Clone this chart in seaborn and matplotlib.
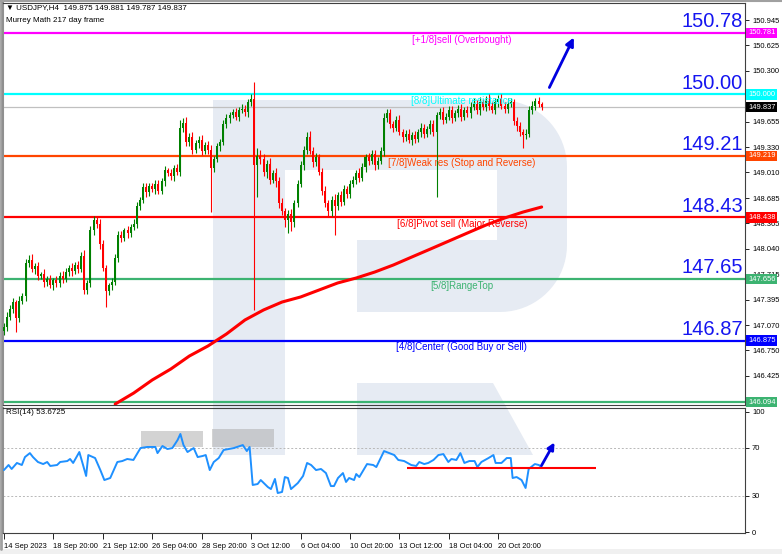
import numpy as np
import pandas as pd
import matplotlib
matplotlib.use('Agg')
import matplotlib.pyplot as plt
import matplotlib.transforms as mtransforms
from matplotlib import font_manager
from matplotlib.patches import Polygon, Rectangle
import seaborn as sns

# ---- data (USDJPY H4) ----
first_open = 147.00
closes = [
    147.05, 147.18, 147.28, 147.36, 147.16, 147.38, 147.44, 147.86, 147.90, 147.78,
    147.82, 147.70, 147.72, 147.62, 147.66, 147.58, 147.64, 147.60, 147.70, 147.66,
    147.74, 147.80, 147.76, 147.84, 147.78, 147.95, 147.52, 147.60, 148.28, 148.40,
    148.36, 148.10, 147.80, 147.50, 147.58, 147.62, 147.92, 148.22, 148.18, 148.28,
    148.24, 148.32, 148.36, 148.58, 148.66, 148.82, 148.76, 148.84, 148.80, 148.86,
    148.78, 148.90, 149.04, 149.00, 148.96, 149.06, 149.02, 149.58, 149.64, 149.40,
    149.46, 149.30, 149.38, 149.42, 149.28, 149.36, 149.30, 149.06, 149.18, 149.34,
    149.40, 149.62, 149.70, 149.74, 149.78, 149.72, 149.80, 149.82, 149.78, 149.90,
    149.94, 149.10, 149.22, 149.18, 149.02, 149.12, 148.92, 149.00, 148.90, 148.62,
    148.52, 148.40, 148.48, 148.38, 148.62, 148.86, 149.10, 149.30, 149.46, 149.28,
    149.14, 149.20, 149.02, 148.78, 148.62, 148.52, 148.66, 148.58, 148.72, 148.64,
    148.80, 148.74, 148.86, 148.92, 149.00, 148.94, 149.08, 149.20, 149.16, 149.24,
    149.10, 149.16, 149.28, 149.70, 149.76, 149.62, 149.58, 149.68, 149.52, 149.46,
    149.50, 149.42, 149.48, 149.44, 149.52, 149.58, 149.50, 149.56, 149.62, 149.52,
    149.74, 149.78, 149.68, 149.72, 149.80, 149.70, 149.76, 149.82, 149.72, 149.80,
    149.76, 149.84, 149.88, 149.80, 149.90, 149.84, 149.92, 149.86, 149.80, 149.90,
    149.94, 149.86, 149.82, 149.88, 149.90, 149.66, 149.60, 149.52, 149.48, 149.50,
    149.80, 149.86, 149.92, 149.88, 149.837,
]
# wick lengths in pips (0.01)
up_wick = [
    5, 6, 4, 5, 3, 6, 4, 5, 6, 8,
    4, 5, 3, 6, 4, 5, 3, 5, 4, 6,
    5, 4, 6, 3, 5, 5, 8, 4, 5, 6,
    4, 6, 5, 4, 3, 5, 6, 4, 5, 3,
    5, 4, 6, 5, 4, 6, 5, 3, 4, 5,
    6, 4, 5, 3, 5, 4, 6, 10, 6, 8,
    5, 6, 4, 5, 7, 4, 5, 6, 4, 5,
    4, 6, 5, 4, 3, 5, 4, 6, 5, 4,
    6, 22, 10, 8, 6, 5, 7, 4, 6, 5,
    6, 4, 5, 6, 4, 5, 6, 4, 6, 8,
    5, 6, 4, 5, 6, 4, 5, 7, 4, 6,
    5, 4, 6, 5, 4, 6, 5, 4, 6, 5,
    6, 4, 5, 6, 5, 6, 4, 5, 6, 4,
    5, 6, 4, 5, 4, 6, 5, 4, 5, 6,
    4, 5, 6, 4, 5, 6, 4, 5, 6, 4,
    5, 6, 8, 5, 7, 4, 6, 8, 5, 6,
    5, 6, 4, 7, 5, 4, 6, 5, 4, 6,
    5, 6, 4, 5, 3,
]
dn_wick = [
    6, 5, 4, 6, 18, 5, 4, 6, 5, 4,
    6, 5, 4, 6, 5, 4, 6, 5, 4, 6,
    4, 5, 6, 4, 5, 4, 6, 5, 4, 6,
    5, 6, 4, 20, 5, 6, 4, 5, 6, 4,
    6, 5, 4, 6, 5, 4, 6, 5, 4, 6,
    4, 5, 6, 4, 5, 6, 4, 5, 6, 5,
    6, 5, 4, 6, 5, 4, 6, 55, 5, 4,
    6, 4, 5, 6, 4, 5, 6, 4, 5, 6,
    4, 184, 40, 6, 5, 8, 6, 5, 7, 6,
    5, 8, 16, 12, 6, 5, 4, 6, 5, 4,
    6, 5, 4, 6, 5, 8, 6, 37, 5, 6,
    4, 6, 5, 4, 6, 5, 4, 6, 5, 4,
    6, 5, 4, 6, 5, 4, 6, 5, 4, 6,
    5, 4, 6, 5, 4, 6, 5, 4, 6, 5,
    82, 5, 6, 4, 5, 6, 4, 5, 6, 4,
    5, 6, 4, 5, 6, 4, 5, 6, 4, 5,
    6, 4, 5, 6, 4, 5, 6, 5, 16, 5,
    4, 5, 6, 4, 3,
]

ma_bar = [36, 42, 48, 54, 60, 66, 72, 78, 84, 90, 96, 102, 108, 114, 120,
          126, 132, 138, 144, 150, 156, 162, 168, 174]
ma_val = [146.068, 146.208, 146.374, 146.513, 146.678, 146.805, 146.958, 147.136,
          147.263, 147.364, 147.428, 147.517, 147.606, 147.669, 147.745, 147.834,
          147.936, 148.037, 148.139, 148.241, 148.342, 148.431, 148.507, 148.571]

rsi_bar = [0, 1.5, 2.5, 4.2, 5.8, 6.8, 8.4, 9.4, 11, 12.7, 14, 15, 17.2, 18.2, 20.5,
           21.4, 22.4, 24.4, 25.6, 26.6, 27.3, 29.5, 31.2, 32.5, 34.4, 36.7, 38.3,
           39.9, 41.9, 44.2, 46.4, 49, 49.7, 51.3, 52.9, 54.5, 56.2, 57.1, 58.1,
           59.4, 61.4, 62.7, 64.3, 65.3, 66.6, 67.9, 69.5, 71.1, 74.4, 77.3, 78.6,
           79.5, 80.5, 82.1, 83.1, 85.4, 86.4, 87.7, 88.6, 90, 90.9, 91.9, 92.9,
           95.1, 96.8, 98.1, 99.4, 101, 102.6, 104.2, 105.8, 106.8, 108.1, 109.7,
           110.7, 111.7, 113.3, 114, 115, 117.5, 119.5, 120.5, 123, 124.7, 126.3,
           127.6, 129.5, 131.8, 133.4, 134.4, 136, 137.3, 139, 140.6, 142.2, 143.8,
           144.8, 146.4, 147.7, 149, 150.6, 152.3, 153.2, 154.5, 156.8, 158.4,
           159.1, 161, 162.7, 164, 164.6, 165.9, 167.5, 168.8, 169.8, 171.8, 173.1, 174]
rsi_val = [51.5, 55.7, 52.4, 57.4, 55.7, 62.3, 65.6, 62.3, 58.2, 56.5, 58.2, 54.9,
           55.7, 58.2, 59.0, 60.7, 57.4, 66.5, 55.7, 46.6, 64.0, 61.5, 51.5, 43.2,
           44.9, 58.2, 59.0, 60.7, 59.9, 69.8, 70.7, 70.7, 65.6, 71.5, 69.0, 69.8,
           76.5, 81.5, 72.3, 66.5, 69.8, 62.3, 63.2, 64.0, 51.5, 58.2, 61.5, 68.2,
           69.8, 72.3, 67.3, 70.7, 39.1, 39.9, 43.2, 37.4, 35.7, 44.1, 32.4, 33.3,
           45.7, 44.9, 35.7, 40.7, 46.6, 57.4, 55.7, 51.5, 52.4, 49.0, 38.2, 38.2,
           44.9, 49.0, 41.6, 44.9, 43.2, 48.2, 45.7, 56.5, 55.7, 54.0, 67.3, 65.6,
           64.0, 59.9, 59.0, 55.7, 54.9, 58.2, 56.5, 57.4, 59.9, 64.0, 64.8, 58.2,
           60.7, 59.9, 65.6, 57.4, 59.0, 59.0, 54.0, 58.2, 61.5, 64.0, 57.4, 57.4,
           61.5, 61.5, 44.9, 45.7, 43.2, 36.6, 52.4, 56.5, 55.7, 53.7]
rsi_last = 53.6725
rsi_support = 53.2

murrey_levels = [150.781, 150.000, 149.219, 148.438, 147.656, 146.875, 146.094]
murrey_colors = ['#ff00ff', '#00ffff', '#ff4500', '#ff0000', '#3cb371', '#0000ff', '#3cb371']
murrey_names = ['[+1/8]sell (Overbought)', '[8/8]Ultimate resistance',
                '[7/8]Weak res (Stop and Reverse)', '[6/8]Pivot sell (Major Reverse)',
                '[5/8]RangeTop', '[4/8]Center (Good Buy or Sell)', None]
big_labels = ['150.78', '150.00', '149.21', '148.43', '147.65', '146.87', None]
last_price = 149.837

price_ticks = [150.945, 150.625, 150.300, 149.655, 149.330, 149.010, 148.685,
               148.365, 148.040, 147.715, 147.395, 147.070, 146.750, 146.425]
time_tick_bars = [0, 16, 32, 48, 64, 80, 96, 112, 128, 144, 160]
time_tick_labels = ['14 Sep 2023', '18 Sep 20:00', '21 Sep 12:00', '26 Sep 04:00',
                    '28 Sep 20:00', '3 Oct 12:00', '6 Oct 04:00', '10 Oct 20:00',
                    '13 Oct 12:00', '18 Oct 04:00', '20 Oct 20:00']

# ---- frame ----
df = pd.DataFrame({'close': closes})
df['bar'] = np.arange(len(df))
df['open'] = [first_open] + closes[:-1]
df['high'] = df[['open', 'close']].max(axis=1) + np.array(up_wick) / 100
df['low'] = df[['open', 'close']].min(axis=1) - np.array(dn_wick) / 100
df['up'] = df['close'] >= df['open']

sns.set_theme(style='white')
plt.rcParams['font.family'] = ['Liberation Sans', 'DejaVu Sans']

W, H = 782, 554
fig = plt.figure(figsize=(W / 100, H / 100), dpi=100)
fig.patch.set_facecolor('white')

def box(x0, y0, x1, y1):
    return [x0 / W, 1 - y1 / H, (x1 - x0) / W, (y1 - y0) / H]

# background with the watermark logo (pixel coordinates)
bg = fig.add_axes([0, 0, 1, 1], zorder=-1)
bg.set_xlim(0, W)
bg.set_ylim(H, 0)
bg.axis('off')
wm = '#e6ebf3'
t = np.linspace(0, np.pi / 2, 20)
bowl = [(213, 100), (500, 100)]
bowl += list(zip(500 + 67 * np.sin(t), 167 - 67 * np.cos(t)))
bowl += list(zip(500 + 67 * np.cos(t), 245 + 67 * np.sin(t)))
bowl += [(357, 312), (357, 240), (497, 240), (497, 170), (213, 170)]
bg.add_patch(Polygon(bowl, closed=True, fc=wm, ec='none'))
bg.add_patch(Rectangle((213, 100), 72, 355, fc=wm, ec='none'))
bg.add_patch(Polygon([(357, 383), (493, 383), (533, 455), (357, 455)], closed=True, fc=wm, ec='none'))
bg.add_patch(Rectangle((0, 549), W, 5, fc='#f0f0f0', ec='none'))
bg.plot([1, 1], [0, 549], color='#a0a0a0', lw=2)
bg.plot([0, W], [1, 1], color='#a0a0a0', lw=1.5)
bg.text(6, 8, '\u25bc USDJPY,H4  149.875 149.881 149.787 149.837', fontsize=5.8,
        va='center', ha='left', color='black')
bg.text(6, 20, 'Murrey Math 217 day frame', fontsize=5.8, va='center', ha='left', color='black')
bg.text(6, 412, f'RSI(14) {rsi_last}', fontsize=5.8, va='center', ha='left', color='black')

# ---- main price panel ----
ax = fig.add_axes(box(3, 3, 745, 405))
ax.set_facecolor('none')
ax.set_xlim(-0.3, 239.8)
ax.set_ylim(146.056, 151.162)

for lvl, col in zip(murrey_levels, murrey_colors):
    ax.axhline(lvl, color=col, lw=1.6, zorder=1)
ax.axhline(last_price, color='#c0c0c0', lw=0.9, zorder=1)

cols = np.where(df['up'], '#008000', '#ff0000')
ax.vlines(df['bar'], df['low'], df['high'], colors=cols, lw=0.8, zorder=2)
body = (df['close'] - df['open']).where((df['close'] - df['open']).abs() > 0.008, 0.008)
ax.bar(df['bar'], body, bottom=df['open'], width=0.65, color=cols, lw=0, zorder=3)

sns.lineplot(x=ma_bar, y=ma_val, ax=ax, color='#ff0000', lw=2.2, zorder=4)

for lvl, col, name in zip(murrey_levels, murrey_colors, murrey_names):
    if name:
        ax.text(148.2, lvl - 0.025, name, color=col, fontsize=7, ha='center', va='top', zorder=5)

names = {f.name for f in font_manager.fontManager.ttflist}
if 'Liberation Sans Narrow' in names:
    big_font, big_size = 'Liberation Sans Narrow', 17
else:
    big_font, big_size = 'Liberation Sans', 14.5
for lvl, lab in zip(murrey_levels, big_labels):
    if lab:
        ax.text(239.2, lvl + 0.02, lab, color='#1515f0', fontsize=big_size, family=big_font,
                ha='right', va='bottom', zorder=5)

ax.annotate('', xy=(184.8, 150.756), xytext=(176.1, 150.057),
            arrowprops=dict(arrowstyle='-|>', color='#0000e0', lw=2, mutation_scale=12), zorder=6)

ax.set_xticks([])
ax.set_yticks(price_ticks)
ax.set_yticklabels([f'{v:.3f}' for v in price_ticks])
ax.tick_params(axis='y', right=True, left=False, labelright=True, labelleft=False,
               labelsize=5.4, length=3, width=0.6, pad=2, colors='black')
ax.set_xlabel('')
ax.set_ylabel('')

trans = mtransforms.blended_transform_factory(ax.transAxes, ax.transData)
for lvl, col in zip(murrey_levels, murrey_colors):
    ax.text(1.004, lvl, f'{lvl:.3f}', transform=trans, color='white', fontsize=5.4,
            ha='left', va='center', zorder=10, clip_on=False,
            bbox=dict(boxstyle='square,pad=0.22', fc=col, ec='none'))
ax.text(1.004, last_price, f'{last_price:.3f}', transform=trans, color='white', fontsize=5.4,
        ha='left', va='center', zorder=10, clip_on=False,
        bbox=dict(boxstyle='square,pad=0.22', fc='black', ec='none'))

for side in ['top', 'bottom', 'right']:
    ax.spines[side].set_color('#404040')
    ax.spines[side].set_linewidth(0.8)
ax.spines['left'].set_color('#909090')
ax.spines['left'].set_linewidth(1.5)

# ---- RSI panel ----
ar = fig.add_axes(box(3, 408, 745, 533))
ar.set_facecolor('none')
ar.set_xlim(-0.3, 239.8)
ar.set_ylim(-0.83, 103.1)
for lv in [30, 70]:
    ar.axhline(lv, color='#b8b8b8', lw=0.7, ls=(0, (2, 2)), zorder=1)
ar.add_patch(Rectangle((44.3, 70.7), 20.1, 13.3, fc='#a9a9a9', alpha=0.5, ec='none', zorder=1))
ar.add_patch(Rectangle((67.3, 70.7), 20.1, 14.9, fc='#a9a9a9', alpha=0.5, ec='none', zorder=1))
sns.lineplot(x=rsi_bar, y=rsi_val, ax=ar, color='#1e90ff', lw=1.4, zorder=3)
ar.hlines(rsi_support, 130.4, 191.6, color='#ff0000', lw=1.5, zorder=4)
ar.annotate('', xy=(178.6, 76.5), xytext=(173.5, rsi_support),
            arrowprops=dict(arrowstyle='-|>', color='#0000e0', lw=2, mutation_scale=10), zorder=6)

ar.set_yticks([0, 30, 70, 100])
ar.set_yticklabels(['0', '30', '70', '100'])
ar.tick_params(axis='y', right=True, left=False, labelright=True, labelleft=False,
               labelsize=5.4, length=3, width=0.6, pad=2, colors='black')
ar.set_xticks(time_tick_bars)
ar.set_xticklabels(time_tick_labels, ha='left')
ar.tick_params(axis='x', bottom=True, labelsize=5.4, length=4, width=0.6, pad=3, colors='black')
ar.set_xlabel('')
ar.set_ylabel('')
for side in ['top', 'bottom', 'right']:
    ar.spines[side].set_color('#404040')
    ar.spines[side].set_linewidth(0.8)
ar.spines['left'].set_color('#909090')
ar.spines['left'].set_linewidth(1.5)

fig.savefig('out.png', dpi=100)
